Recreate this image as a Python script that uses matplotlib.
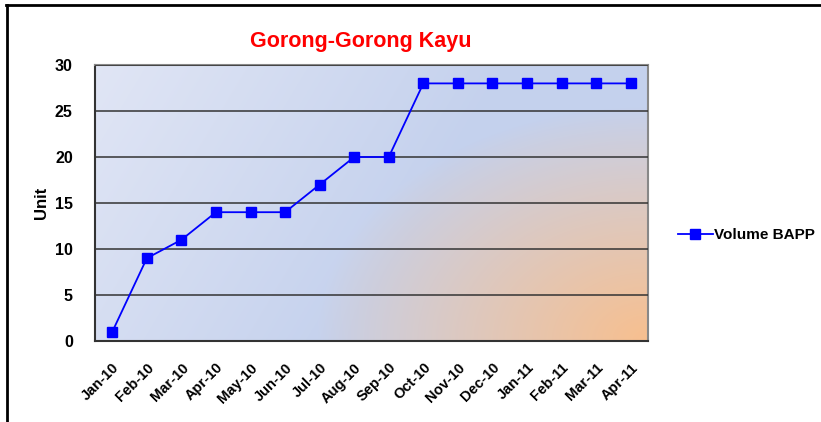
import matplotlib
matplotlib.use("Agg")
import matplotlib.pyplot as plt
import numpy as np
from matplotlib.lines import Line2D

months = ["Jan-10", "Feb-10", "Mar-10", "Apr-10", "May-10", "Jun-10", "Jul-10", "Aug-10",
          "Sep-10", "Oct-10", "Nov-10", "Dec-10", "Jan-11", "Feb-11", "Mar-11", "Apr-11"]
volume = [1, 9, 11, 14, 14, 14, 17, 20, 20, 28, 28, 28, 28, 28, 28, 28]
yticks = [0, 5, 10, 15, 20, 25, 30]

plt.rcParams['font.family'] = ['Liberation Sans', 'DejaVu Sans']

W, H = 821, 422
fig = plt.figure(figsize=(W / 100, H / 100), dpi=100)
ax = fig.add_axes([95 / W, 1 - 341 / H, (648 - 95) / W, (341 - 65) / H])

n = len(months)
x = np.arange(n)

# background: light blue gradient with an orange glow from the lower right corner
gx, gy = np.meshgrid(np.linspace(0, 1, 400), np.linspace(1, 0, 200))
light = np.array([0.88, 0.90, 0.96])
blue = np.array([0.77, 0.82, 0.93])
orange = np.array([0.97, 0.75, 0.56])
t = np.clip((gx + (1 - gy) * 0.3) / 0.75, 0, 1)[..., None]
img = light * (1 - t) + blue * t
d = np.sqrt(((1 - gx) / 0.6) ** 2 + (gy / 0.85) ** 2)
w = np.clip(1 - d, 0, 1)[..., None] ** 0.9
img = img * (1 - w) + orange * w
ax.imshow(img, extent=[-0.5, n - 0.5, 0, 30], aspect='auto', zorder=0)

ax.plot(x, volume, color='#0000ff', lw=1.3, marker='s', ms=7.5, mec='#0000ff',
        mfc='#0000ff', label='Volume BAPP', zorder=3)

ax.set_xlim(-0.5, n - 0.5)
ax.set_ylim(0, 30)
ax.set_yticks(yticks)
ax.yaxis.grid(True, color='#333333', lw=1.1)
ax.set_axisbelow(False)
ax.tick_params(axis='y', length=0, pad=16, labelsize=11.5)
ax.tick_params(axis='x', length=0, pad=14, labelsize=10.5)
ax.set_yticklabels([str(v) for v in yticks], fontweight='bold')
ax.set_xticks(x)
ax.set_xticklabels(months, rotation=45, ha='right', rotation_mode='anchor', fontweight='bold')

for s in ['left', 'bottom']:
    ax.spines[s].set_color('#333333')
    ax.spines[s].set_linewidth(1.5)
for s in ['top', 'right']:
    ax.spines[s].set_color('#888888')
    ax.spines[s].set_linewidth(1.5)

ax.set_ylabel('Unit', fontweight='bold', fontsize=12, labelpad=4)
fig.text(361 / W, 1 - 42 / H, 'Gorong-Gorong Kayu', color='#ff0000', fontsize=15.5,
         fontweight='bold', ha='center', va='center')

fig.legend(loc='center left', bbox_to_anchor=(664 / W, 1 - 235 / H), frameon=False,
           prop={'weight': 'bold', 'size': 11}, handlelength=2.3, handletextpad=0.05)

fig.add_artist(Line2D([6 / W, 1], [1 - 5 / H] * 2, color='black', lw=2, transform=fig.transFigure))
fig.add_artist(Line2D([7 / W] * 2, [0, 1 - 5 / H], color='black', lw=2, transform=fig.transFigure))

fig.savefig('out.png', dpi=100)
